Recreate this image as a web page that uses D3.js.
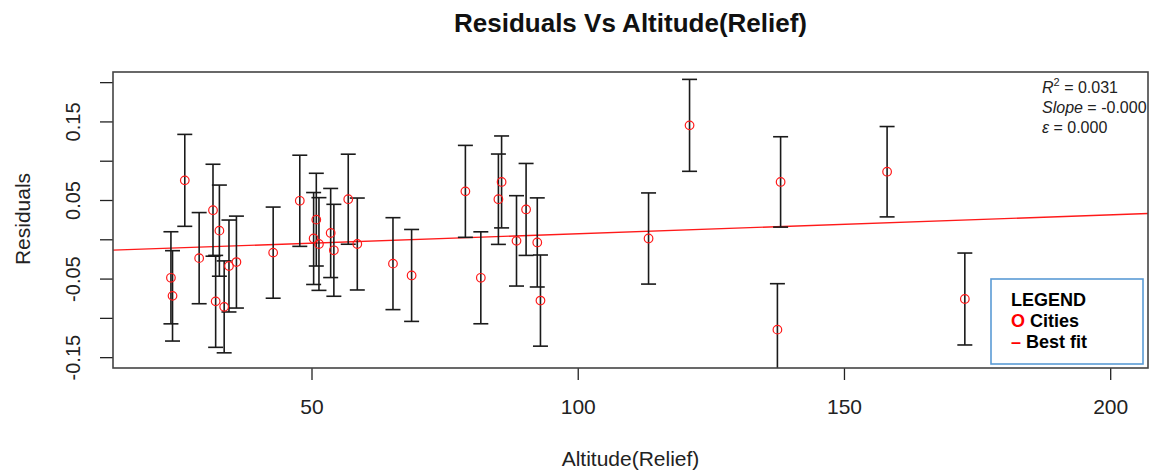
<!DOCTYPE html>
<html>
<head>
<meta charset="utf-8">
<script src="https://cdn.jsdelivr.net/npm/d3@7"></script>
<style>
  body { margin: 0; background: #fff; }
  text { font-family: "Liberation Sans", Arial, sans-serif; }
</style>
</head>
<body>
<div id="chart"></div>
<script>
// cities: altitude vs residual, with error bar half-width
const altitude = [23.6, 23.9, 26.2, 28.9, 31.5, 32.7, 32.0, 33.6, 34.5, 35.9,
  42.8, 47.8, 50.9, 50.4, 51.4, 53.6, 54.2, 56.9, 58.6, 65.3,
  68.8, 78.9, 81.8, 85.1, 85.7, 88.5, 90.3, 92.4, 93.0, 113.3,
  121.0, 138.1, 137.5, 158.1, 172.7];
const residuals = [-0.049, -0.072, 0.075, -0.024, 0.037, 0.011, -0.079, -0.086, -0.034, -0.029,
  -0.017, 0.049, 0.025, 0.001, -0.006, 0.008, -0.014, 0.051, -0.006, -0.031,
  -0.046, 0.061, -0.049, 0.051, 0.073, -0.002, 0.038, -0.004, -0.078, 0.001,
  0.145, 0.073, -0.115, 0.086, -0.076];
const std_err = [0.0586, 0.0575, 0.0585, 0.058, 0.0585, 0.058, 0.0585, 0.0585, 0.0585, 0.0585,
  0.058, 0.058, 0.059, 0.0585, 0.059, 0.0567, 0.0585, 0.0573, 0.0585, 0.0585,
  0.0585, 0.0585, 0.0585, 0.0575, 0.0585, 0.0575, 0.0585, 0.0567, 0.058, 0.058,
  0.0585, 0.0575, 0.0585, 0.0575, 0.0585];

// best fit line
const fit_intercept = -0.0169;
const fit_slope = 0.00024;

const x_ticks = [50, 100, 150, 200];
const y_ticks = [-0.15, -0.1, -0.05, 0, 0.05, 0.1, 0.15, 0.2];
const y_labels = ["-0.15", "", "-0.05", "", "0.05", "", "0.15", ""];

const stats_values = ["0.031", "-0.000", "0.000"];
const legend_items = ["Cities", "Best fit"];

const margin = {top: 72, right: 3, bottom: 106, left: 113};
const width = 1151 - margin.left - margin.right;
const height = 474 - margin.top - margin.bottom;

let svg = d3.select("#chart").append("svg")
  .attr("width", 1151)
  .attr("height", 474);

let x = d3.scaleLinear()
  .domain([12.72, 207.1])
  .range([0, width]);
let y = d3.scaleLinear()
  .domain([-0.1638, 0.2129])
  .range([height, 0]);

svg.append("text")
  .attr("x", margin.left + width / 2)
  .attr("y", 23)
  .attr("text-anchor", "middle")
  .attr("dominant-baseline", "central")
  .attr("font-size", 26)
  .attr("font-weight", "bold")
  .attr("fill", "#111")
  .text("Residuals Vs Altitude(Relief)");

let g = svg.append("g")
  .attr("transform", "translate(" + margin.left + "," + margin.top + ")");

svg.append("clipPath").attr("id", "plot-clip")
  .append("rect")
  .attr("width", width)
  .attr("height", height);

// x axis
let xAxis = g.append("g")
  .attr("transform", "translate(0," + height + ")")
  .call(d3.axisBottom(x).tickValues(x_ticks).tickSize(12).tickFormat(d3.format("d")));
xAxis.select(".domain").remove();
xAxis.selectAll("line").attr("stroke", "#222").attr("stroke-width", 1.3);
xAxis.selectAll("text")
  .attr("y", 39)
  .attr("dy", "0.35em")
  .attr("font-size", 21)
  .attr("font-family", "Liberation Sans, Arial, sans-serif")
  .attr("fill", "#222");

// y axis, labels turned like R does
let yAxis = g.append("g")
  .call(d3.axisLeft(y).tickValues(y_ticks).tickSize(13)
    .tickFormat((d, i) => y_labels[i]));
yAxis.select(".domain").remove();
yAxis.selectAll("line").attr("stroke", "#222").attr("stroke-width", 1.3);
yAxis.selectAll("text")
  .attr("transform", "rotate(-90)")
  .attr("x", 0)
  .attr("y", -40)
  .attr("dy", null)
  .attr("text-anchor", "middle")
  .attr("dominant-baseline", "central")
  .attr("font-size", 20)
  .attr("font-family", "Liberation Sans, Arial, sans-serif")
  .attr("fill", "#222");

svg.append("text")
  .attr("x", margin.left + width / 2)
  .attr("y", 458)
  .attr("text-anchor", "middle")
  .attr("dominant-baseline", "central")
  .attr("font-size", 21)
  .attr("fill", "#222")
  .text("Altitude(Relief)");

svg.append("text")
  .attr("transform", "translate(22,219) rotate(-90)")
  .attr("text-anchor", "middle")
  .attr("dominant-baseline", "central")
  .attr("font-size", 21)
  .attr("fill", "#222")
  .text("Residuals");

let plot = g.append("g").attr("clip-path", "url(#plot-clip)");

// best fit
plot.append("line")
  .attr("x1", x(x.domain()[0]))
  .attr("y1", y(fit_intercept + fit_slope * x.domain()[0]))
  .attr("x2", x(x.domain()[1]))
  .attr("y2", y(fit_intercept + fit_slope * x.domain()[1]))
  .attr("stroke", "#ff1a1a")
  .attr("stroke-width", 1.4);

let pts = altitude.map((a, i) => ({a: a, r: residuals[i], e: std_err[i]}));

// error bars
let bars = plot.selectAll(".bar").data(pts).enter().append("g")
  .attr("class", "bar")
  .attr("stroke", "#1a1a1a")
  .attr("stroke-width", 1.6);
bars.append("line")
  .attr("x1", d => x(d.a)).attr("x2", d => x(d.a))
  .attr("y1", d => y(d.r + d.e)).attr("y2", d => y(d.r - d.e));
bars.append("line")
  .attr("x1", d => x(d.a) - 7.5).attr("x2", d => x(d.a) + 7.5)
  .attr("y1", d => y(d.r + d.e)).attr("y2", d => y(d.r + d.e));
bars.append("line")
  .attr("x1", d => x(d.a) - 7.5).attr("x2", d => x(d.a) + 7.5)
  .attr("y1", d => y(d.r - d.e)).attr("y2", d => y(d.r - d.e));

plot.selectAll(".city").data(pts).enter().append("circle")
  .attr("class", "city")
  .attr("cx", d => x(d.a))
  .attr("cy", d => y(d.r))
  .attr("r", 4.3)
  .attr("fill", "none")
  .attr("stroke", "#ff1a1a")
  .attr("stroke-width", 1.2);

// frame
g.append("rect")
  .attr("width", width)
  .attr("height", height)
  .attr("fill", "none")
  .attr("stroke", "#444")
  .attr("stroke-width", 1.6);

// stats in the top right corner
let stats = svg.append("g")
  .attr("font-size", 16)
  .attr("fill", "#222");
let s1 = stats.append("text").attr("x", 1042).attr("y", 87).attr("dominant-baseline", "central");
s1.append("tspan").attr("font-style", "italic").text("R");
s1.append("tspan").attr("font-size", 11).attr("dy", -5).text("2");
s1.append("tspan").attr("dy", 5).text(" = " + stats_values[0]);
let s2 = stats.append("text").attr("x", 1042).attr("y", 107).attr("dominant-baseline", "central");
s2.append("tspan").attr("font-style", "italic").text("Slope");
s2.append("tspan").text(" = " + stats_values[1]);
let s3 = stats.append("text").attr("x", 1042).attr("y", 127).attr("dominant-baseline", "central");
s3.append("tspan").attr("font-style", "italic").text("ε");
s3.append("tspan").text(" = " + stats_values[2]);

// legend box
let legend = svg.append("g");
legend.append("rect")
  .attr("x", 991).attr("y", 279)
  .attr("width", 152).attr("height", 85)
  .attr("fill", "#fff")
  .attr("stroke", "#5b9bd5")
  .attr("stroke-width", 1.6);
legend.append("text")
  .attr("x", 1011).attr("y", 300)
  .attr("dominant-baseline", "central")
  .attr("font-size", 18).attr("font-weight", "bold")
  .text("LEGEND");
let l1 = legend.append("text")
  .attr("x", 1011).attr("y", 321)
  .attr("dominant-baseline", "central")
  .attr("font-size", 18).attr("font-weight", "bold");
l1.append("tspan").attr("fill", "#ff0000").text("O");
l1.append("tspan").text(" " + legend_items[0]);
let l2 = legend.append("text")
  .attr("x", 1011).attr("y", 342)
  .attr("dominant-baseline", "central")
  .attr("font-size", 18).attr("font-weight", "bold");
l2.append("tspan").attr("fill", "#ff0000").text("–");
l2.append("tspan").text(" " + legend_items[1]);
</script>
</body>
</html>
